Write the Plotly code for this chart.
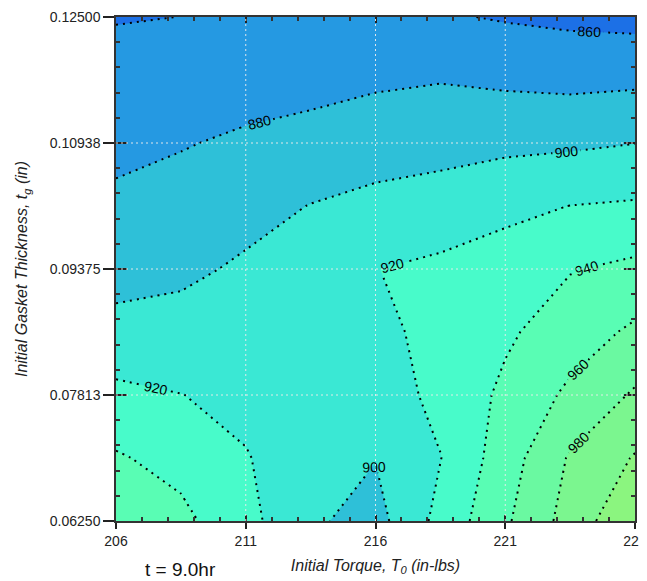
import plotly.graph_objects as go

# ---- data -------------------------------------------------------------
torque = [206, 208.5, 211, 213.5, 216, 218.5, 221, 223.5, 226]
thickness = [0.0625, 0.0703125, 0.078125, 0.0859375, 0.09375,
             0.1015625, 0.109375, 0.1171875, 0.125]

# rows follow thickness (bottom -> top), columns follow torque
z_rows = [
    [952, 945, 926, 903, 893, 926, 957, 988, 1018],
    [942, 933.5, 921, 910, 900.6, 919.5, 950.5, 982, 1001.5],
    [925, 920.3, 915.5, 910, 910, 925, 944, 964, 982.4],
    [905, 907, 909.1, 908, 915, 926, 937, 950, 963.6],
    [894, 896.2, 902.7, 905, 919.7, 924, 928, 939, 944.3],
    [883.9, 887.5, 893.8, 900.5, 905.2, 908.5, 915.7, 920.2, 922.2],
    [875, 878.8, 883, 887, 891.1, 893.3, 895.3, 896.8, 899.7],
    [867, 869.4, 872.1, 873.6, 877.2, 879.2, 876.8, 875, 876.4],
    [859, 860.1, 861.3, 863, 863.2, 862, 858.4, 855.8, 854],
]

x_ticks = [206, 211, 216, 221, 226]
y_ticks = [0.0625, 0.078125, 0.09375, 0.109375, 0.125]
y_tick_text = ["0.06250", "0.07813", "0.09375", "0.10938", "0.12500"]

level_start, level_end, level_step = 860, 1000, 20
band_colors = ["#1C70E6", "#2599E2", "#2EC0D8", "#3AE8D4", "#48FBCA",
               "#59FDB4", "#6AF9A1", "#7BF68F", "#8BF57F"]

# ---- figure -----------------------------------------------------------
n = len(band_colors)
colorscale = [[i / (n - 1), c] for i, c in enumerate(band_colors)]
font = "Liberation Sans, Arial, sans-serif"

fig = go.Figure()
fig.add_trace(go.Contour(
    x=torque, y=thickness, z=z_rows,
    contours=dict(start=level_start, end=level_end, size=level_step,
                  coloring="fill", showlabels=True,
                  labelfont=dict(size=14, color="black", family=font)),
    line=dict(color="black", width=2, dash="2px,5px", smoothing=0),
    colorscale=colorscale, showscale=False, hoverinfo="skip",
))
# empty trace carrying the overlay axes used for the inner tick marks
fig.add_trace(go.Scatter(x=[None], y=[None], xaxis="x2", yaxis="y2",
                         showlegend=False, hoverinfo="skip"))

shapes = []
grid_line = dict(color="rgba(235,235,235,0.95)", width=1, dash="2px,3px")
for xv in x_ticks[1:-1]:
    shapes.append(dict(type="line", xref="x", yref="paper", x0=xv, x1=xv,
                       y0=0, y1=1, layer="above", line=grid_line))
for yv in y_ticks[1:-1]:
    shapes.append(dict(type="line", xref="paper", yref="y", x0=0, x1=1,
                       y0=yv, y1=yv, layer="above", line=grid_line))

x_range = [206, 226]
y_range = [0.0625, 0.125]

fig.update_layout(
    width=639, height=573,
    margin=dict(l=108, r=12, t=9, b=60),
    paper_bgcolor="white", plot_bgcolor="white",
    font=dict(family=font, size=14, color="#222"),
    shapes=shapes,
    xaxis=dict(range=x_range, tickvals=x_ticks, showgrid=False, automargin=False,
               zeroline=False, showline=True, linecolor="#333", linewidth=1.5,
               mirror=True, ticks="outside", ticklen=6, tickwidth=1.5,
               tickcolor="#222", tickfont=dict(size=14),
               title=dict(text="<i>Initial Torque, T<sub>0</sub> (in-lbs)</i>",
                          font=dict(size=16), standoff=12)),
    yaxis=dict(range=y_range, tickvals=y_ticks, ticktext=y_tick_text,
               showgrid=False, zeroline=False, showline=True, automargin=False,
               linecolor="#333", linewidth=1.5, mirror=True, ticks="outside",
               ticklen=11, tickwidth=1.5, tickcolor="#222",
               tickfont=dict(size=14),
               title=dict(text="<i>Initial Gasket Thickness, t<sub>g</sub> (in)</i>",
                          font=dict(size=16), standoff=18)),
    xaxis2=dict(overlaying="x", side="bottom", range=x_range, tickvals=x_ticks,
                showticklabels=False, showgrid=False, zeroline=False,
                showline=False, mirror="allticks", ticks="inside", ticklen=6,
                tickwidth=1.5, tickcolor="#222",
                minor=dict(dtick=1, ticks="inside", ticklen=4,
                           tickcolor="#333", showgrid=False)),
    yaxis2=dict(overlaying="y", side="left", range=y_range, tickvals=y_ticks,
                showticklabels=False, showgrid=False, zeroline=False,
                showline=False, mirror="allticks", ticks="inside", ticklen=11,
                tickwidth=1.5, tickcolor="#222",
                minor=dict(tick0=0.0625, dtick=0.003125, ticks="inside",
                           ticklen=4, tickcolor="#333", showgrid=False)),
    annotations=[dict(text="t = 9.0hr", xref="paper", yref="paper",
                      x=0.124, y=-0.097, xanchor="center", yanchor="middle",
                      showarrow=False, font=dict(size=19, color="#111"))],
)

fig.write_html("out.html")
